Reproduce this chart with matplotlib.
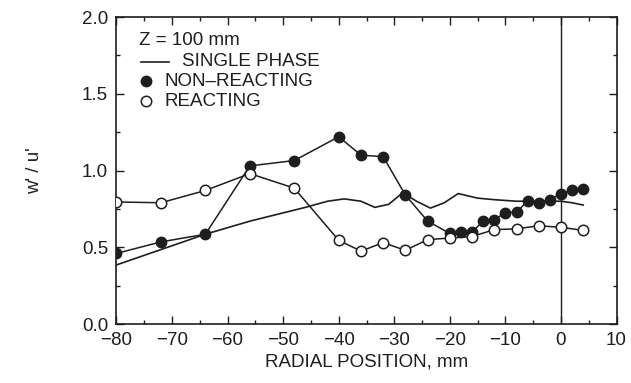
import matplotlib
matplotlib.use("Agg")
import matplotlib.pyplot as plt
from matplotlib.ticker import MultipleLocator

plt.rcParams['font.family'] = ['Liberation Sans', 'DejaVu Sans']

# Radial positions (mm) and w'/u' ratios
nonreact_x = [-80, -72, -64, -56, -48, -40, -36, -32, -28, -24, -20, -18, -16,
              -14, -12, -10, -8, -6, -4, -2, 0, 2, 4]
nonreact_y = [0.46, 0.535, 0.585, 1.03, 1.065, 1.22, 1.10, 1.09, 0.84, 0.67,
              0.59, 0.60, 0.60, 0.67, 0.68, 0.725, 0.73, 0.80, 0.79, 0.81,
              0.85, 0.87, 0.88]

react_x = [-80, -72, -64, -56, -48, -40, -36, -32, -28, -24, -20, -16, -12,
           -8, -4, 0, 4]
react_y = [0.795, 0.79, 0.87, 0.98, 0.885, 0.545, 0.475, 0.53, 0.48, 0.55,
           0.56, 0.57, 0.615, 0.62, 0.64, 0.63, 0.61]

single_x = [-80, -64, -56, -46, -42, -39, -36, -33.5, -31, -28.5, -26, -23.5,
            -21, -18.5, -15, -12, -8, -4, 0, 2, 4]
single_y = [0.385, 0.585, 0.67, 0.76, 0.80, 0.815, 0.80, 0.76, 0.78, 0.855,
            0.80, 0.755, 0.79, 0.85, 0.82, 0.81, 0.80, 0.80, 0.80, 0.79, 0.775]

ink = '#1e1e1e'
fs = 13.5

fig = plt.figure(figsize=(6.31, 3.83), dpi=100)
ax = fig.add_axes([0.1846, 0.154, 0.7925, 0.8016])

ax.plot(single_x, single_y, color=ink, lw=1.2, zorder=2)
ax.plot(nonreact_x, nonreact_y, color=ink, lw=1.1, marker='o', ms=7.5,
        mfc=ink, mec=ink, zorder=3)
ax.plot(react_x, react_y, color=ink, lw=1.1, marker='o', ms=7.5,
        mfc='white', mec=ink, mew=1.1, zorder=3)

ax.axvline(0, color=ink, lw=1.0, zorder=1)

ax.set_xlim(-80, 10)
ax.set_ylim(0.0, 2.0)
ax.xaxis.set_major_locator(MultipleLocator(10))
ax.xaxis.set_minor_locator(MultipleLocator(5))
ax.yaxis.set_major_locator(MultipleLocator(0.5))
ax.yaxis.set_minor_locator(MultipleLocator(0.25))
ax.yaxis.set_major_formatter(plt.FuncFormatter(lambda v, p: f"{v:.1f}"))
ax.xaxis.set_major_formatter(plt.FuncFormatter(
    lambda v, p: f"\u2212{abs(int(v))}" if v < 0 else f"{int(v)}"))

ax.tick_params(which='both', direction='in', top=True, right=True,
               colors=ink, labelsize=fs, width=1.0)
ax.tick_params(which='major', length=6, pad=6)
ax.tick_params(which='minor', length=3)
for s in ax.spines.values():
    s.set_color(ink)
    s.set_linewidth(1.2)

ax.set_xlabel('RADIAL POSITION, mm', fontsize=fs, color=ink, labelpad=3)
ax.set_ylabel("w' / u'", fontsize=fs, color=ink, labelpad=28)

# Legend block drawn as text and sample glyphs
ax.text(0.046, 0.925, 'Z = 100 mm', transform=ax.transAxes, fontsize=fs,
        color=ink, va='center', ha='left')
ax.plot([0.05, 0.106], [0.855, 0.855], transform=ax.transAxes, color=ink,
        lw=1.2)
ax.text(0.132, 0.855, 'SINGLE PHASE', transform=ax.transAxes, fontsize=fs,
        color=ink, va='center', ha='left')
ax.plot([0.06], [0.79], transform=ax.transAxes, marker='o', ms=7.5,
        mfc=ink, mec=ink, ls='none')
ax.text(0.096, 0.79, 'NON\u2013REACTING', transform=ax.transAxes, fontsize=fs,
        color=ink, va='center', ha='left')
ax.plot([0.06], [0.725], transform=ax.transAxes, marker='o', ms=7.5,
        mfc='white', mec=ink, mew=1.1, ls='none')
ax.text(0.096, 0.725, 'REACTING', transform=ax.transAxes, fontsize=fs,
        color=ink, va='center', ha='left')

fig.savefig('out.png', dpi=100)
